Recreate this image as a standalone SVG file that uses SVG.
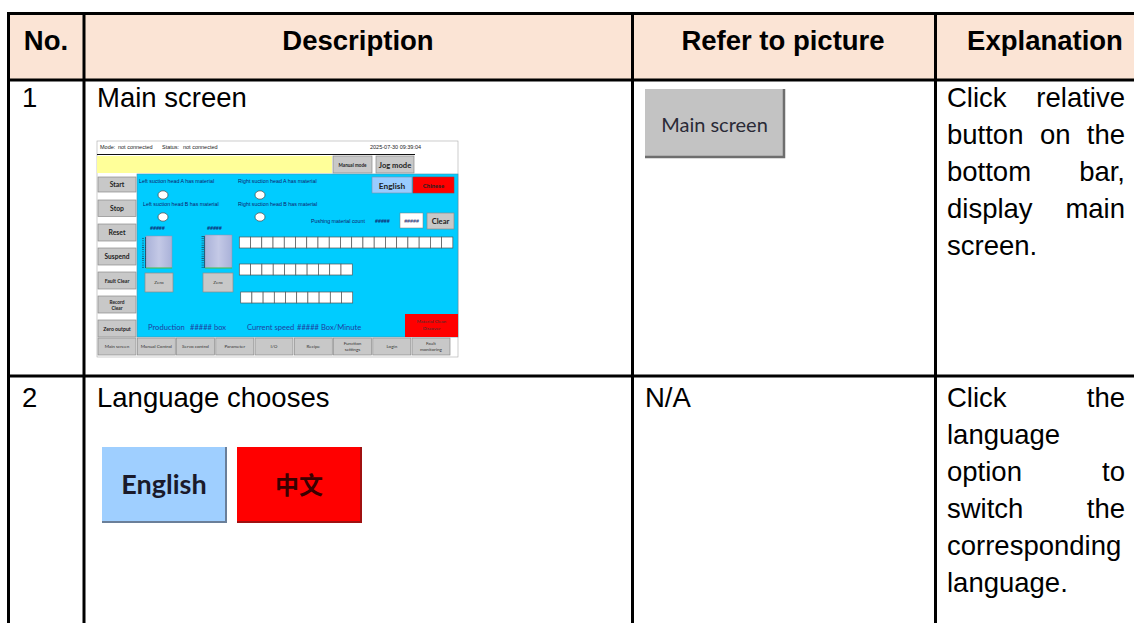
<svg xmlns="http://www.w3.org/2000/svg" width="1134" height="623" viewBox="0 0 1134 623">
<style>
.hd{font-family:"Liberation Sans",Arial,sans-serif;font-weight:bold;font-size:27.5px;fill:#000;text-anchor:middle}
.bd{font-family:"Liberation Sans",Arial,sans-serif;font-size:27.5px;fill:#000}
.e{text-anchor:end}
.ln{stroke:#000;stroke-width:3;fill:none}
.st{font-family:"Liberation Sans",Arial,sans-serif;font-size:5.5px;fill:#222}
.s{font-family:"Liberation Sans",Arial,sans-serif;font-size:5.3px;fill:#10206a}
.bt{fill:#c8c8c8;stroke:#8a8a8a;stroke-width:0.7}
.bl{font-family:Lato,"Liberation Sans",sans-serif;font-weight:bold;fill:#222;text-anchor:middle}
.bb{font-family:Lato,"Liberation Sans",sans-serif;font-size:4.6px;fill:#333;text-anchor:middle}
.bx{fill:#fff;stroke:#555;stroke-width:0.7}
.lab{font-family:Lato,"Liberation Sans",sans-serif;font-size:7.6px;fill:#1f3f9f}
.ck{fill:#fff;stroke:#444;stroke-width:0.7}
</style>
<defs>
<linearGradient id="gauge" x1="0" y1="0" x2="1" y2="0">
<stop offset="0" stop-color="#a9b1d8"/><stop offset="0.5" stop-color="#c4c9e6"/><stop offset="1" stop-color="#a9b1d8"/>
</linearGradient>
<pattern id="ticks" width="4" height="2.2" patternUnits="userSpaceOnUse">
<rect width="4" height="2.2" fill="none"/><line x1="1.5" y1="1" x2="4" y2="1" stroke="#223" stroke-width="0.6"/>
</pattern>
</defs>
<rect width="1134" height="623" fill="#fff"/>

<g id="header">
<rect x="8.5" y="13.5" width="1126" height="66.5" fill="#fbe4d5"/>
<text class="hd" x="46" y="49.5">No.</text>
<text class="hd" x="358" y="49.5">Description</text>
<text class="hd" x="783" y="49.5">Refer to picture</text>
<text class="hd" x="1045" y="49.5">Explanation</text>
</g>

<g id="grid">
<path class="ln" d="M7 13.5H1134M7 80H1134M7 376H1134M8.5 12V623M84 12V623M632.5 12V623M935.5 12V623"/>
</g>

<g id="row1-no"><text class="bd" x="22" y="107">1</text></g>
<g id="row1-desc">
<text class="bd" x="97" y="107">Main screen</text>
<g id="hmi">
<rect x="97" y="141" width="361" height="216" fill="#fff" stroke="#aaa" stroke-width="0.6"/>
<text class="st" x="100" y="149">Mode:</text>
<text class="st" x="118" y="149">not connected</text>
<text class="st" x="162" y="149">Status:</text>
<text class="st" x="183" y="149">not connected</text>
<text class="st" x="370" y="149">2025-07-30 09:39:04</text>
<line x1="97" y1="154.5" x2="415" y2="154.5" stroke="#111" stroke-width="1"/>
<rect x="97" y="156" width="235" height="17" fill="#ffff99"/>
<rect class="bt" x="333" y="156" width="39" height="17"/>
<text class="bl" x="352.5" y="166.5" font-size="4.6">Manual mode</text>
<rect class="bt" x="376" y="156" width="38" height="17"/>
<text class="bl" x="395" y="167.5" font-size="7.6">Jog mode</text>

<rect class="bt" x="98" y="177" width="38" height="15"/>
<text class="bl" x="117" y="187" font-size="6.8">Start</text>
<rect class="bt" x="98" y="200" width="38" height="16.5"/>
<text class="bl" x="117" y="210.5" font-size="6.8">Stop</text>
<rect class="bt" x="98" y="224" width="38" height="17"/>
<text class="bl" x="117" y="234.5" font-size="6.8">Reset</text>
<rect class="bt" x="98" y="248" width="38" height="17"/>
<text class="bl" x="117" y="258.5" font-size="6.6">Suspend</text>
<rect class="bt" x="98" y="272" width="38" height="17"/>
<text class="bl" x="117" y="282.5" font-size="5.2">Fault Clear</text>
<rect class="bt" x="98" y="296" width="38" height="17"/>
<text class="bl" x="117" y="303.5" font-size="4.8">Record</text>
<text class="bl" x="117" y="309.5" font-size="4.8">Clear</text>
<rect class="bt" x="98" y="320" width="38" height="17"/>
<text class="bl" x="117" y="330.5" font-size="5.2">Zero output</text>

<rect x="137" y="174" width="321" height="163" fill="#00ccff" stroke="#4a90a8" stroke-width="0.6"/>
<text class="s" x="139" y="183">Left suction head A has material</text>
<text class="s" x="238" y="183">Right suction head A has material</text>
<text class="s" x="143" y="206">Left suction head B has material</text>
<text class="s" x="238" y="206">Right suction head B has material</text>
<ellipse class="ck" cx="163" cy="195" rx="5" ry="4.2"/>
<ellipse class="ck" cx="260" cy="195" rx="5" ry="4.2"/>
<ellipse class="ck" cx="163" cy="217" rx="5" ry="4.2"/>
<ellipse class="ck" cx="260" cy="217" rx="5" ry="4.2"/>
<text class="s" x="150" y="230" font-weight="bold" font-style="italic" font-size="4.8">#####</text>
<text class="s" x="207" y="230" font-weight="bold" font-style="italic" font-size="4.8">#####</text>
<rect x="146" y="236" width="26" height="32" fill="url(#gauge)" stroke="#8890b0" stroke-width="0.5"/>
<line x1="146" y1="268" x2="172" y2="268" stroke="#3c3" stroke-width="0.8"/>
<line x1="145.5" y1="237" x2="145.5" y2="268" stroke="#223" stroke-width="0.6"/>
<rect x="142" y="237" width="4" height="31" fill="url(#ticks)"/>
<rect x="205" y="235" width="27" height="33" fill="url(#gauge)" stroke="#8890b0" stroke-width="0.5"/>
<line x1="205" y1="268" x2="232" y2="268" stroke="#3c3" stroke-width="0.8"/>
<line x1="204.5" y1="236" x2="204.5" y2="268" stroke="#223" stroke-width="0.6"/>
<rect x="201" y="236" width="4" height="32" fill="url(#ticks)"/>
<rect class="bt" x="145" y="273" width="28" height="19"/>
<text class="bb" x="159" y="284">Zero</text>
<rect class="bt" x="203" y="273" width="30" height="19"/>
<text class="bb" x="218" y="284">Zero</text>

<g id="boxes1">
<rect class="bx" x="239.3" y="237" width="11.24" height="11"/><rect class="bx" x="250.54" y="237" width="11.24" height="11"/><rect class="bx" x="261.78" y="237" width="11.24" height="11"/><rect class="bx" x="273.02" y="237" width="11.24" height="11"/><rect class="bx" x="284.26" y="237" width="11.24" height="11"/><rect class="bx" x="295.5" y="237" width="11.24" height="11"/><rect class="bx" x="306.74" y="237" width="11.24" height="11"/><rect class="bx" x="317.98" y="237" width="11.24" height="11"/><rect class="bx" x="329.22" y="237" width="11.24" height="11"/><rect class="bx" x="340.46" y="237" width="11.24" height="11"/><rect class="bx" x="351.7" y="237" width="11.24" height="11"/><rect class="bx" x="362.94" y="237" width="11.24" height="11"/><rect class="bx" x="374.18" y="237" width="11.24" height="11"/><rect class="bx" x="385.42" y="237" width="11.24" height="11"/><rect class="bx" x="396.66" y="237" width="11.24" height="11"/><rect class="bx" x="407.9" y="237" width="11.24" height="11"/><rect class="bx" x="419.14" y="237" width="11.24" height="11"/><rect class="bx" x="430.38" y="237" width="11.24" height="11"/><rect class="bx" x="441.62" y="237" width="11.24" height="11"/>
</g>
<g id="boxes2">
<rect class="bx" x="239.3" y="264" width="11.3" height="11"/><rect class="bx" x="250.6" y="264" width="11.3" height="11"/><rect class="bx" x="261.9" y="264" width="11.3" height="11"/><rect class="bx" x="273.2" y="264" width="11.3" height="11"/><rect class="bx" x="284.5" y="264" width="11.3" height="11"/><rect class="bx" x="295.8" y="264" width="11.3" height="11"/><rect class="bx" x="307.1" y="264" width="11.3" height="11"/><rect class="bx" x="318.4" y="264" width="11.3" height="11"/><rect class="bx" x="329.7" y="264" width="11.3" height="11"/><rect class="bx" x="341" y="264" width="11.3" height="11"/>
</g>
<g id="boxes3">
<rect class="bx" x="240.7" y="292" width="11.2" height="11"/><rect class="bx" x="251.9" y="292" width="11.2" height="11"/><rect class="bx" x="263.1" y="292" width="11.2" height="11"/><rect class="bx" x="274.3" y="292" width="11.2" height="11"/><rect class="bx" x="285.5" y="292" width="11.2" height="11"/><rect class="bx" x="296.7" y="292" width="11.2" height="11"/><rect class="bx" x="307.9" y="292" width="11.2" height="11"/><rect class="bx" x="319.1" y="292" width="11.2" height="11"/><rect class="bx" x="330.3" y="292" width="11.2" height="11"/><rect class="bx" x="341.5" y="292" width="11.2" height="11"/>
</g>

<rect x="372" y="177" width="40" height="16" fill="#99ccff" stroke="#7a8fa8" stroke-width="0.6"/>
<text class="bl" x="392" y="188.5" font-size="8.4">English</text>
<rect x="413" y="177" width="41" height="16" fill="#ff0000" stroke="#a33" stroke-width="0.6"/>
<text class="bl" x="433.5" y="187.5" font-size="6" fill="#600">Chinese</text>
<text class="s" x="311" y="223">Pushing material count</text>
<text class="s" x="375" y="223" font-weight="bold">#####</text>
<rect x="400" y="213" width="23" height="15" fill="#fff" stroke="#777" stroke-width="0.5"/>
<text class="s" x="411.5" y="222.5" font-size="4.5" text-anchor="middle">#####</text>
<rect class="bt" x="427" y="213" width="27" height="16"/>
<text class="bl" x="440.5" y="223.5" font-size="7.6">Clear</text>

<text class="lab" x="148" y="329.5">Production</text>
<text class="lab" x="190" y="329.5">##### box</text>
<text class="lab" x="247" y="329.5">Current speed</text>
<text class="lab" x="297" y="329.5">##### Box/Minute</text>
<rect x="405" y="314" width="53" height="23" fill="#ff0000"/>
<text class="bb" x="431.5" y="323" fill="#600">Material Clean</text>
<text class="bb" x="431.5" y="330" fill="#600">Discover</text>

<rect class="bt" x="98" y="338" width="38" height="17"/><text class="bb" x="117" y="348">Main screen</text>
<rect class="bt" x="137.3" y="338" width="38" height="17"/><text class="bb" x="156.3" y="348">Manual Control</text>
<rect class="bt" x="176.5" y="338" width="38" height="17"/><text class="bb" x="195.5" y="348">Servo control</text>
<rect class="bt" x="215.8" y="338" width="38" height="17"/><text class="bb" x="234.8" y="348">Parameter</text>
<rect class="bt" x="255" y="338" width="38" height="17"/><text class="bb" x="274" y="348">I/O</text>
<rect class="bt" x="294.3" y="338" width="38" height="17"/><text class="bb" x="313.3" y="348">Recipe</text>
<rect class="bt" x="333.5" y="338" width="38" height="17"/><text class="bb" x="352.5" y="345">Function</text><text class="bb" x="352.5" y="351">settings</text>
<rect class="bt" x="372.8" y="338" width="38" height="17"/><text class="bb" x="391.8" y="348">Login</text>
<rect class="bt" x="412" y="338" width="38" height="17"/><text class="bb" x="431" y="345">Fault</text><text class="bb" x="431" y="351">monitoring</text>
</g>
</g>

<g id="row1-pic">
<rect x="645" y="89" width="139" height="68" fill="#c3c3c3"/>
<path d="M645 157H784V89" fill="none" stroke="#6e6e6e" stroke-width="2.5"/>
<text x="714.5" y="132" font-family="Lato,'Liberation Sans',sans-serif" font-size="20" fill="#2a2a36" text-anchor="middle">Main screen</text>
</g>

<g id="row1-exp">
<text class="bd" x="947" y="107">Click</text><text class="bd e" x="1125" y="107">relative</text>
<text class="bd" x="947" y="144">button</text><text class="bd" x="1040" y="144">on</text><text class="bd e" x="1125" y="144">the</text>
<text class="bd" x="947" y="181">bottom</text><text class="bd e" x="1125" y="181">bar,</text>
<text class="bd" x="947" y="218">display</text><text class="bd e" x="1125" y="218">main</text>
<text class="bd" x="947" y="255">screen.</text>
</g>

<g id="row2-no"><text class="bd" x="22" y="407">2</text></g>
<g id="row2-desc">
<text class="bd" x="97" y="407">Language chooses</text>
<g id="btn-en">
<rect x="102" y="447" width="124" height="75" fill="#9fcfff"/>
<path d="M102 522H226V447" fill="none" stroke="#6a7f99" stroke-width="2"/>
<text x="164" y="494" font-family="Lato,'Liberation Sans',sans-serif" font-weight="bold" font-size="27" fill="#1a1a2a" text-anchor="middle">English</text>
</g>
<g id="btn-zh">
<rect x="237" y="447" width="124" height="75" fill="#ff0000"/>
<path d="M237 522H361V447" fill="none" stroke="#a01010" stroke-width="2"/>
<text x="299" y="494" font-family="'Noto Sans CJK SC',sans-serif" font-weight="bold" font-size="24" fill="#3a0000" text-anchor="middle">中文</text>
</g>
</g>

<g id="row2-pic"><text class="bd" x="645" y="407">N/A</text></g>

<g id="row2-exp">
<text class="bd" x="947" y="407">Click</text><text class="bd e" x="1125" y="407">the</text>
<text class="bd" x="947" y="444">language</text>
<text class="bd" x="947" y="481">option</text><text class="bd e" x="1125" y="481">to</text>
<text class="bd" x="947" y="518">switch</text><text class="bd e" x="1125" y="518">the</text>
<text class="bd" x="947" y="555">corresponding</text>
<text class="bd" x="947" y="592">language.</text>
</g>
</svg>
